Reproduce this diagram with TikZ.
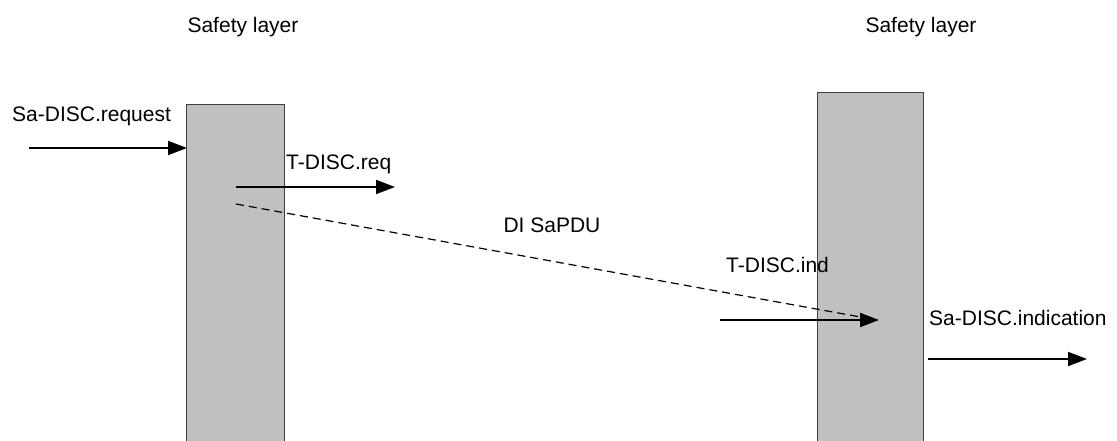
\documentclass[tikz,border=0pt]{standalone}
\usepackage{fontspec}
\setmainfont{Liberation Sans}
\usetikzlibrary{arrows.meta}
\begin{document}
\begin{tikzpicture}[x=1pt,y=-1pt,
  lbl/.style={anchor=base west,inner sep=0pt,font=\fontsize{21}{24}\selectfont},
  ttl/.style={anchor=base,inner sep=0pt,font=\fontsize{21}{24}\selectfont},
  bar/.style={draw=black!75,line width=0.9pt,fill={rgb,255:red,192;green,192;blue,192}},
  msg/.style={line width=1.9pt,-{Triangle[length=19pt,width=14pt]}},
  pdu/.style={line width=1.2pt,dash pattern=on 8pt off 5pt}]
\useasboundingbox (0,0) rectangle (1117,441);
% bars
\path[bar] (186,104) rectangle (284,445);
\path[bar] (817,92) rectangle (923,445);
\coordinate (lb) at (186,104);
\coordinate (rb) at (817,92);
% titles
\node[ttl] (t1) at (243,33) {Safety layer};
\node[ttl] (t2) at (921,33) {Safety layer};
% labels
\node[lbl] (l1) at (12,122) {Sa-DISC.request};
\node[lbl] (l2) at (286,170) {T-DISC.req};
\node[ttl] (l3) at (552,233) {DI SaPDU};
\node[lbl] (l4) at (726,272) {T-DISC.ind};
\node[lbl] (l5) at (929,325) {Sa-DISC.indication};
% arrow end points
\coordinate (a1s) at (29,148);  \coordinate (a1e) at (187,148);
\coordinate (a2s) at (236,187); \coordinate (a2e) at (395,187);
\coordinate (a3s) at (720,320); \coordinate (a3e) at (879,320);
\coordinate (a4s) at (928,359); \coordinate (a4e) at (1087,359);
\coordinate (ds) at (236,204);  \coordinate (de) at (866,318);
\draw[msg] (a1s) -- (a1e);
\draw[msg] (a2s) -- (a2e);
\draw[pdu] (ds) -- (de);
\draw[msg] (a3s) -- (a3e);
\draw[msg] (a4s) -- (a4e);
\end{tikzpicture}
\end{document}
